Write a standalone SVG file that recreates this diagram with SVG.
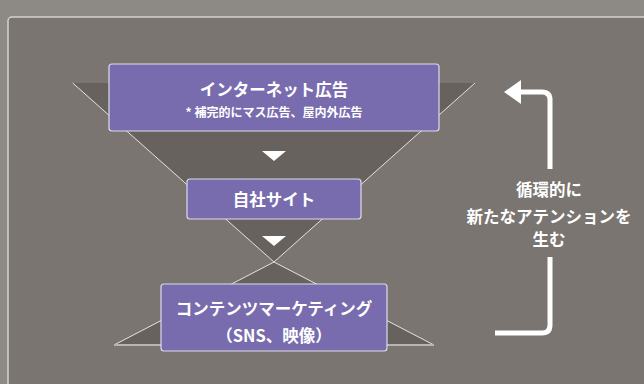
<svg xmlns="http://www.w3.org/2000/svg" width="644" height="384" viewBox="0 0 644 384">
<style>
.box{fill:#786cae;stroke:#dedaea;stroke-width:1.2}
.t{font-family:"Noto Sans CJK JP","Noto Sans",sans-serif;font-weight:bold;fill:#ffffff;text-anchor:middle}
.edge{stroke:#e6e2de;stroke-width:1;fill:none}
.fun{fill:#67625e}
.arr{fill:#ffffff}
</style>
<rect x="0" y="0" width="644" height="384" fill="#8d8985"/>
<rect x="8" y="17" width="650" height="380" rx="4" fill="#7a7571" stroke="#d6d2ce" stroke-width="1.5"/>
<g id="funnel">
<polygon class="fun" points="72.7,83 475,83 274,262"/>
<polyline class="edge" points="72.7,83 274,262 475,83"/>
<polygon class="fun" points="274,262 114,345 434,345"/>
<polyline class="edge" points="114,345 274,262 434,345"/>
<line x1="114" y1="345" x2="434" y2="345" stroke="#b8b4b0" stroke-width="2"/>
<polygon class="arr" points="262,151 286,151 274,161"/>
<polygon class="arr" points="262,236 286,236 274,246"/>
</g>
<g id="node-internet">
<rect class="box" x="109" y="64" width="330" height="67" rx="3"/>
<text class="t" x="274" y="95.5" font-size="16.5">インターネット広告</text>
<text class="t" x="274" y="117" font-size="12">* 補完的にマス広告、屋内外広告</text>
</g>
<g id="node-site">
<rect class="box" x="187" y="179" width="174" height="40" rx="3"/>
<text class="t" x="274" y="206" font-size="16.5">自社サイト</text>
</g>
<g id="node-content">
<rect class="box" x="161" y="284" width="226" height="67" rx="3"/>
<text class="t" x="274" y="315" font-size="16.5">コンテンツマーケティング</text>
<text class="t" x="274" y="342" font-size="16.5">（SNS、映像）</text>
</g>
<g id="connectors">
<path d="M495,333 H542 Q550,333 550,325 V257" fill="none" stroke="#ffffff" stroke-width="5"/>
<path d="M550,169 V100 Q550,92 542,92 H518" fill="none" stroke="#ffffff" stroke-width="5"/>
<polygon class="arr" points="504,92 521,80 521,104"/>
</g>
<g id="label-cycle">
<text class="t" x="549" y="196" font-size="16.5">循環的に</text>
<text class="t" x="549" y="222.5" font-size="16.5">新たなアテンションを</text>
<text class="t" x="549" y="246" font-size="16.5">生む</text>
</g>
</svg>
